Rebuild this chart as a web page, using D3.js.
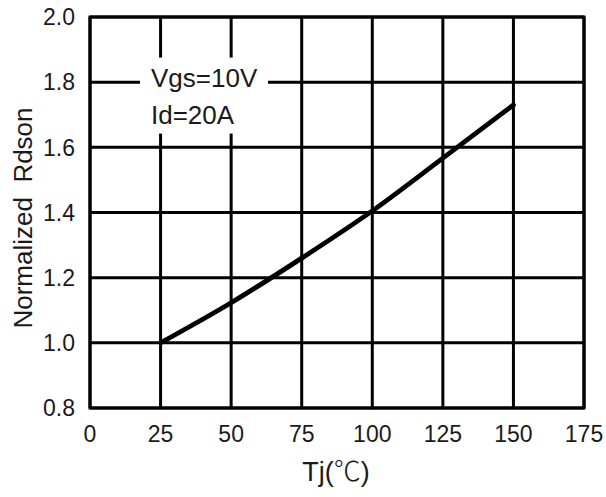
<!DOCTYPE html>
<html>
<head>
<meta charset="utf-8">
<script src="https://cdn.jsdelivr.net/npm/d3@7"></script>
<style>
  body { margin: 0; background: #fff; }
  text { font-family: "Liberation Sans", Arial, sans-serif; fill: #1a1a1a; }
</style>
</head>
<body>
<svg id="chart" width="606" height="497"></svg>
<script>
// curve
const tempC = [25, 50, 75, 100, 125, 150];
const rdsonNorm = [1.0, 1.123, 1.26, 1.405, 1.567, 1.73];
const xTicks = [0, 25, 50, 75, 100, 125, 150, 175];
const yTicks = [0.8, 1.0, 1.2, 1.4, 1.6, 1.8, 2.0];
const noteLines = ["Vgs=10V", "Id=20A"];

const svg = d3.select("#chart");
const margin = {left: 90, right: 22, top: 17, bottom: 89};
const width = 606, height = 497;

const x = d3.scaleLinear().domain([0, 175]).range([margin.left, width - margin.right]);
const y = d3.scaleLinear().domain([0.8, 2.0]).range([height - margin.bottom, margin.top]);

// grid
const grid = svg.append("g").attr("stroke", "#000").attr("stroke-width", 3);
grid.selectAll("line.v").data(xTicks).join("line")
  .attr("x1", d => x(d)).attr("x2", d => x(d))
  .attr("y1", y(0.8)).attr("y2", y(2.0));
grid.selectAll("line.h").data(yTicks).join("line")
  .attr("y1", d => y(d)).attr("y2", d => y(d))
  .attr("x1", x(0)).attr("x2", x(175));

// white box behind the note
svg.append("rect")
  .attr("x", x(0) + 50).attr("y", y(1.9) + 8)
  .attr("width", 128).attr("height", 76)
  .attr("fill", "#fff");

// outer frame on top
svg.append("rect")
  .attr("x", x(0)).attr("y", y(2.0))
  .attr("width", x(175) - x(0)).attr("height", y(0.8) - y(2.0))
  .attr("fill", "none").attr("stroke", "#000").attr("stroke-width", 3);

// curve
const line = d3.line().x((d, i) => x(tempC[i])).y(d => y(d)).curve(d3.curveMonotoneX);
svg.append("path")
  .datum(rdsonNorm)
  .attr("d", line)
  .attr("fill", "none").attr("stroke", "#000").attr("stroke-width", 4.8)
  .attr("stroke-linecap", "round");

// note text
svg.selectAll("text.note").data(noteLines).join("text")
  .attr("x", x(0) + 61)
  .attr("y", (d, i) => 87 + i * 37)
  .attr("font-size", 26)
  .text(d => d);

// tick labels
svg.selectAll("text.yt").data(yTicks).join("text")
  .attr("x", 75).attr("y", d => y(d)).attr("dy", "0.36em")
  .attr("text-anchor", "end").attr("font-size", 23)
  .text(d => d.toFixed(1));
svg.selectAll("text.xt").data(xTicks).join("text")
  .attr("x", d => x(d)).attr("y", 442)
  .attr("text-anchor", "middle").attr("font-size", 23)
  .text(d => d);

// axis titles
svg.append("text")
  .attr("transform", `translate(32,218) rotate(-90)`)
  .attr("text-anchor", "middle").attr("font-size", 26)
  .attr("xml:space", "preserve")
  .text("Normalized  Rdson");
const xt = svg.append("text")
  .attr("x", 336).attr("y", 481)
  .attr("text-anchor", "middle").attr("font-size", 27);
xt.append("tspan").text("Tj(");
xt.append("tspan").style("font-family", "'Noto Sans CJK SC'").attr("font-weight", 300).text("℃");
xt.append("tspan").text(")");
</script>
</body>
</html>
